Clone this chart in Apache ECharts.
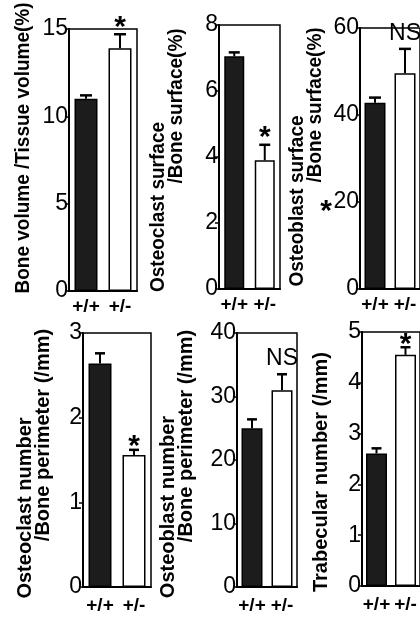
<!DOCTYPE html>
<html>
<head>
<meta charset="utf-8">
<script src="https://cdn.jsdelivr.net/npm/echarts@6/dist/echarts.min.js"></script>
<style>
html,body{margin:0;padding:0;background:#fff}
#chart{width:420px;height:617px}
</style>
</head>
<body>
<div id="chart"></div>
<script>
'use strict'
// genotype groups on every x axis
var groups = ['+/+', '+/-'];

// bone volume / tissue volume (%)
var bvTv = [11.0, 13.9];
var bvTvErr = [0.2, 0.8];
var bvTvMark = ['', '*'];

// osteoclast surface / bone surface (%)
var ocSurf = [7.05, 3.9];
var ocSurfErr = [0.12, 0.47];
var ocSurfMark = ['', '*'];

// osteoblast surface / bone surface (%)
var obSurf = [42.8, 49.6];
var obSurfErr = [1.2, 5.6];
var obSurfMark = ['', 'NS'];

// osteoclast number / bone perimeter (/mm)
var ocNum = [2.64, 1.56];
var ocNumErr = [0.12, 0.06];
var ocNumMark = ['', '*'];

// osteoblast number / bone perimeter (/mm)
var obNum = [25.0, 31.0];
var obNumErr = [1.4, 2.5];
var obNumMark = ['', 'NS'];

// trabecular number (/mm)
var tbNum = [2.61, 4.55];
var tbNumErr = [0.1, 0.15];
var tbNumMark = ['', '*'];

// y axis ranges [max, interval]
var axisRanges = [[15, 5], [8, 2], [60, 20], [3, 1], [40, 10], [5, 1]];

var NARROW = '"Liberation Sans Narrow", "Liberation Sans", Arial, sans-serif';
var SANS = '"Liberation Sans", Arial, sans-serif';

var panels = [
    {vals: bvTv, errs: bvTvErr, marks: bvTvMark, range: axisRanges[0],
     grid: {left: 69, top: 29, width: 68, height: 262}, barW: 23, cap: 12, gap: 7, lblMargin: 6,
     titles: [{text: 'Bone volume /Tissue volume(%)', x: 24, y: 148, size: 19}]},
    {vals: ocSurf, errs: ocSurfErr, marks: ocSurfMark, range: axisRanges[1],
     grid: {left: 219, top: 25, width: 61, height: 264}, barW: 20, cap: 11, gap: 7, lblMargin: 6,
     titles: [{text: 'Osteoclast surface', x: 159, y: 207, size: 19},
              {text: '/Bone surface(%)', x: 177, y: 106, size: 19}]},
    {vals: obSurf, errs: obSurfErr, marks: obSurfMark, range: axisRanges[2],
     grid: {left: 360, top: 28, width: 62, height: 261}, barW: 21, cap: 12, gap: 15, lblMargin: 6,
     titles: [{text: 'Osteoblast surface', x: 298, y: 201, size: 19},
              {text: '/Bone surface(%)', x: 316, y: 105, size: 19}]},
    {vals: ocNum, errs: ocNumErr, marks: ocNumMark, range: axisRanges[3],
     grid: {left: 83, top: 333, width: 68, height: 254}, barW: 23, cap: 10, gap: 3, lblMargin: 9,
     titles: [{text: 'Osteoclast number', x: 25, y: 508, size: 20},
              {text: '/Bone perimeter (/mm)', x: 43, y: 435, size: 20}]},
    {vals: obNum, errs: obNumErr, marks: obNumMark, range: axisRanges[4],
     grid: {left: 237, top: 333, width: 60, height: 254}, barW: 21, cap: 10, gap: 16, lblMargin: 9,
     titles: [{text: 'Osteoblast number', x: 168, y: 507, size: 20},
              {text: '/Bone perimeter (/mm)', x: 186, y: 436, size: 20}]},
    {vals: tbNum, errs: tbNumErr, marks: tbNumMark, range: axisRanges[5],
     grid: {left: 362, top: 332, width: 60, height: 254}, barW: 21, cap: 10, gap: 3, lblMargin: 9,
     titles: [{text: 'Trabecular number (/mm)', x: 321, y: 472, size: 20}]}
];

function errorBars(p) {
    return function (params, api) {
        var base = api.coord([api.value(0), api.value(1)]);
        var top = api.coord([api.value(0), api.value(1) + api.value(2)]);
        var mark = p.marks[params.dataIndex];
        var star = mark === '*';
        var kids = [
            {type: 'line', shape: {x1: base[0], y1: base[1], x2: top[0], y2: top[1]},
             style: {stroke: '#000', lineWidth: 2}},
            {type: 'line', shape: {x1: top[0] - p.cap / 2, y1: top[1], x2: top[0] + p.cap / 2, y2: top[1]},
             style: {stroke: '#000', lineWidth: 2.5}}
        ];
        if (mark) {
            kids.push({type: 'text', x: top[0], y: top[1] - p.gap,
                style: {text: mark, textAlign: 'center', textVerticalAlign: 'middle', fill: '#000',
                    font: star ? 'bold 30px ' + SANS : '23px ' + NARROW}});
        }
        return {type: 'group', children: kids};
    };
}

var grids = [], xAxes = [], yAxes = [], series = [], graphics = [];
panels.forEach(function (p, i) {
    grids.push(Object.assign({show: true, borderColor: '#000', borderWidth: 1.5}, p.grid));
    xAxes.push({
        type: 'category', gridIndex: i, data: groups,
        axisLine: {lineStyle: {color: '#000', width: 2}},
        axisTick: {alignWithLabel: true, length: 5, lineStyle: {color: '#000', width: 1.5}},
        axisLabel: {color: '#000', fontSize: 19, fontWeight: 'bold', fontFamily: NARROW, margin: p.lblMargin, interval: 0}
    });
    yAxes.push({
        type: 'value', gridIndex: i, min: 0, max: p.range[0], interval: p.range[1],
        splitLine: {show: false},
        axisLine: {show: true, lineStyle: {color: '#000', width: 2}},
        axisTick: {show: true, length: 4, lineStyle: {color: '#000', width: 1.5}},
        axisLabel: {color: '#000', fontSize: 23, fontFamily: NARROW, margin: 1}
    });
    series.push({
        type: 'bar', xAxisIndex: i, yAxisIndex: i, barWidth: p.barW, silent: true,
        data: p.vals.map(function (v, k) {
            return {value: v, itemStyle: {color: k === 0 ? '#1c1c1c' : '#fff', borderColor: '#000', borderWidth: 1.5}};
        })
    });
    series.push({
        type: 'custom', xAxisIndex: i, yAxisIndex: i, z: 5, silent: true,
        renderItem: errorBars(p),
        encode: {x: 0, y: 1},
        data: p.vals.map(function (v, k) { return [k, v, p.errs[k]]; })
    });
    p.titles.forEach(function (t) {
        graphics.push({
            type: 'text', x: t.x, y: t.y, rotation: Math.PI / 2, scaleY: 1.05, silent: true,
            style: {text: t.text, textAlign: 'center', textVerticalAlign: 'middle', fill: '#000',
                font: 'bold ' + t.size + 'px ' + SANS}
        });
    });
});

// stray asterisk next to the "20" tick of the osteoblast surface panel
graphics.push({type: 'text', x: 326, y: 212, silent: true,
    style: {text: '*', textAlign: 'center', textVerticalAlign: 'middle', fill: '#000', font: 'bold 30px ' + SANS}});

var myChart = echarts.init(document.getElementById('chart'));
myChart.setOption({
    animation: false,
    backgroundColor: '#fff',
    grid: grids,
    xAxis: xAxes,
    yAxis: yAxes,
    series: series,
    graphic: graphics
});
</script>
</body>
</html>
